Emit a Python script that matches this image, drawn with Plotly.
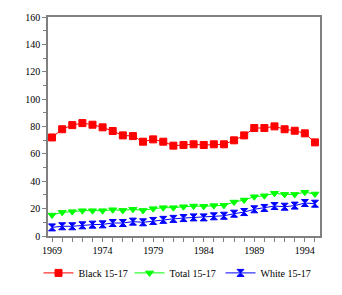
import plotly.graph_objects as go

years = list(range(1969, 1996))

black = [72, 78, 81, 82.5, 81.3, 79.4, 76.7, 73.5, 73, 68.9, 70.6, 68.9, 66,
         66.5, 67, 66.5, 67, 67, 69.9, 73.5, 78.9, 78.9, 80.1, 78, 76.9, 75, 68.4]
total = [15.3, 17.3, 17.8, 18.5, 18.5, 18.5, 19.2, 18.7, 19.5, 18.7, 20, 20.7, 20.7,
         21.4, 21.9, 21.7, 22.2, 22.4, 24.8, 26.3, 28.7, 29.4, 31.2, 30.4, 30.4, 32, 30.7]
white = [6.3, 7.1, 7.1, 7.8, 8.3, 8.5, 9.5, 9.5, 10.5, 10, 11, 11.8, 12.5,
         13.1, 13.6, 13.6, 14.4, 14.8, 16.3, 17.5, 19.5, 20.5, 21.9, 21.4, 22.2, 24.1, 23.6]

x_labels = [1969, 1974, 1979, 1984, 1989, 1994]

series = [
    ("Black 15-17", black, "#ff0000", "square"),
    ("Total 15-17", total, "#00ff00", "triangle-down"),
    ("White 15-17", white, "#0000ff", "hourglass"),
]

fig = go.Figure()
for name, vals, color, sym in series:
    fig.add_trace(go.Scatter(
        x=years, y=vals, name=name, mode="lines+markers",
        line=dict(color=color, width=1),
        marker=dict(color=color, symbol=sym, size=7,
                    line=dict(color=color, width=1)),
    ))

axis_common = dict(showline=True, linecolor="#808080", linewidth=1.5,
                   mirror=True, showgrid=False, zeroline=False, automargin=False,
                   ticks="outside", tickcolor="#808080", ticklen=4,
                   tickfont=dict(family="Liberation Serif", size=10, color="black"))

fig.update_xaxes(range=[1968.6, 1995.5], tickvals=x_labels,
                 minor=dict(tick0=1969, dtick=1, ticks="outside",
                            ticklen=4, tickcolor="#808080"),
                 **axis_common)
fig.update_yaxes(range=[0, 160], tick0=0, dtick=20,
                 minor=dict(dtick=10, ticks="outside", ticklen=3,
                            tickcolor="#808080"),
                 **axis_common)

# the page body adds an 8px offset at top-left, so shrink the figure by 8px
fig.update_layout(
    width=334, height=287,
    margin=dict(l=40, r=22, t=9, b=59),
    paper_bgcolor="white", plot_bgcolor="white",
    font=dict(family="Liberation Serif", size=10, color="black"),
    legend=dict(orientation="h", x=0.5, xanchor="center", xref="container",
                y=0.077, yanchor="middle", yref="container",
                font=dict(size=10), entrywidth=46, entrywidthmode="pixels",
                itemwidth=30, tracegroupgap=0),
)

fig.write_html("out.html")
